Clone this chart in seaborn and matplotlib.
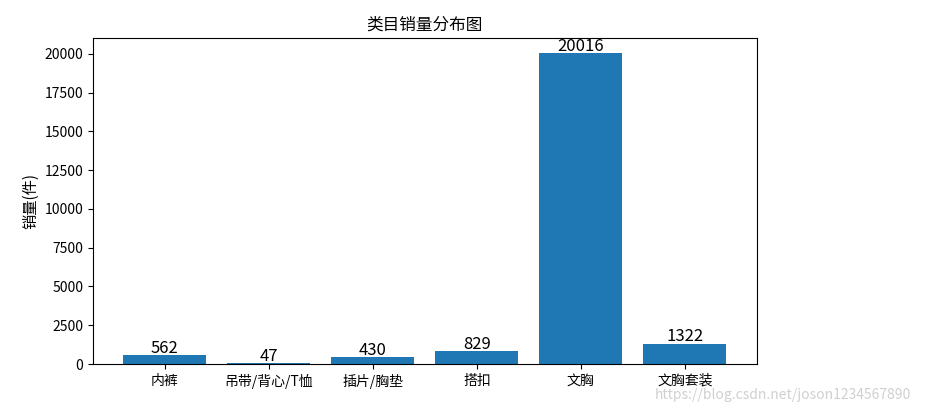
import matplotlib
matplotlib.use("Agg")
import matplotlib.pyplot as plt
import seaborn as sns
import pandas as pd

categories = ["内裤", "吊带/背心/T恤", "插片/胸垫", "搭扣", "文胸", "文胸套装"]
sales = [562, 47, 430, 829, 20016, 1322]

plt.rcParams['font.family'] = ['Noto Sans CJK SC', 'DejaVu Sans']
plt.rcParams['axes.unicode_minus'] = False

df = pd.DataFrame({"category": categories, "sales": sales})

fig = plt.figure(figsize=(9.25, 4.17), dpi=100)
ax = fig.add_axes([0.1005, 0.127, 0.7175, 0.782])
sns.barplot(data=df, x="category", y="sales", color="#1f77b4", saturation=1,
            width=0.8, ax=ax, errorbar=None)
ax.set_xlim(-0.69, 5.69)
ax.set_ylim(0, 21017)
for c in ax.containers:
    ax.bar_label(c, fontsize=12, padding=-1)
ax.set_xlabel("")
ax.set_ylabel("销量(件)", fontsize=11)
ax.set_title("类目销量分布图", fontsize=12)
ax.tick_params(labelsize=10)
fig.text(0.985, 0.035, "https://blog.csdn.net/joson1234567890", ha="right",
         va="bottom", fontsize=10, color="#d0d0d0")
fig.savefig("out.png", dpi=100)
